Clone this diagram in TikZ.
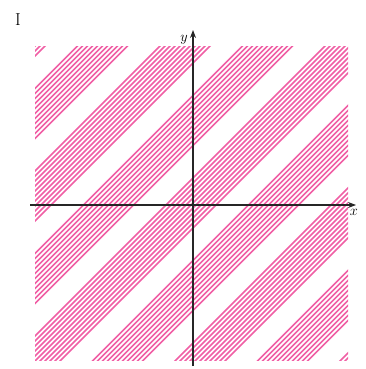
\documentclass[tikz,border=0pt]{standalone}
\usetikzlibrary{arrows.meta}
\definecolor{hatchpink}{RGB}{240,95,165}
\begin{document}
\begin{tikzpicture}[x=1pt,y=-1pt,
  hatch/.style={hatchpink,line width=1.7pt},
  axis/.style={black!85,line width=1.2pt,-{Stealth[length=8pt,width=6pt]}},
  lbl/.style={inner sep=0pt,font=\Large}]
\useasboundingbox (0,0) rectangle (366,369);
\begin{scope}
\clip (35,47) rectangle (348,360);
\foreach \k in {-5,...,5}{
  \foreach \j in {0,...,10}{
    \pgfmathsetmacro{\s}{398-2-25+82.5*\k+5*\j}
    \draw[hatch] ({\s+30},-30) -- (-30,{\s+30});
  }
}
\end{scope}
\coordinate (xs) at (30,205);
\coordinate (xe) at (356,205);
\coordinate (ys) at (193,366);
\coordinate (ye) at (193,30);
\draw[axis] (xs) -- (xe);
\draw[axis] (ys) -- (ye);
\node[lbl,anchor=north] (xl) at (354,209) {$x$};
\node[lbl,anchor=east] (yl) at (188,40) {$y$};
\node[lbl,font=\LARGE] (one) at (18,20) {I};
\end{tikzpicture}
\end{document}
